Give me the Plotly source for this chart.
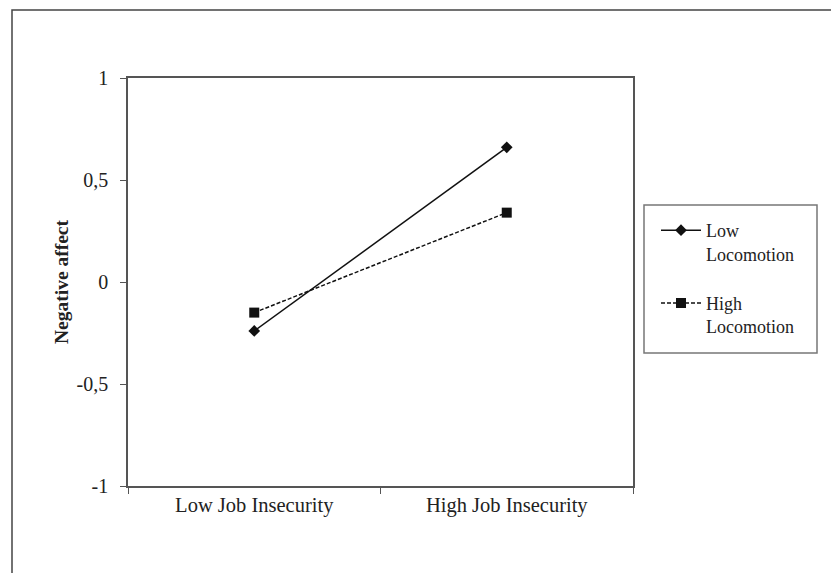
import plotly.graph_objects as go

categories = ["Low Job Insecurity", "High Job Insecurity"]
low_locomotion = [-0.24, 0.66]
high_locomotion = [-0.15, 0.34]
series_names = ["Low<br>Locomotion", "High<br>Locomotion"]
y_tickvals = [-1, -0.5, 0, 0.5, 1]
y_ticktext = ["-1", "-0,5", "0", "0,5", "1"]

OFF = 8  # page body margin in the browser
W, H = 839 - OFF, 573 - OFF
# plot area in screen pixels
L, R, T, B = 128, 633, 78, 486
pw, ph = R - L, B - T

def px(x):
    return (x - L) / pw

def py(y):
    return (B - y) / ph

FONT = "Liberation Serif, Times New Roman, serif"

fig = go.Figure()
fig.add_trace(go.Scatter(
    x=categories, y=low_locomotion, name=series_names[0], mode="lines+markers",
    line=dict(color="#111111", width=1.5),
    marker=dict(symbol="diamond", size=9, color="#111111"),
    legendgroup="a",
))
fig.add_trace(go.Scatter(
    x=categories, y=high_locomotion, name=series_names[1], mode="lines+markers",
    line=dict(color="#111111", width=1.5, dash="4px,2px"),
    marker=dict(symbol="square", size=10, color="#111111"),
    legendgroup="b",
))

fig.update_layout(
    width=W, height=H,
    margin=dict(l=L - OFF, r=(W + OFF) - R, t=T - OFF, b=(H + OFF) - B, pad=0),
    paper_bgcolor="white", plot_bgcolor="white",
    font=dict(family=FONT, size=19, color="#222222"),
    showlegend=True,
    legend=dict(
        x=px(656), y=py(212), xanchor="left", yanchor="top",
        bgcolor="rgba(0,0,0,0)", borderwidth=0,
        font=dict(family=FONT, size=18, color="#222222"),
        tracegroupgap=23, valign="top", itemwidth=40,
    ),
    xaxis=dict(
        type="category", range=[-0.5, 1.5],
        showline=True, linecolor="#555555", linewidth=1.5, mirror=True,
        ticks="outside", tickson="boundaries", ticklen=6, tickcolor="#555555",
        showgrid=False, zeroline=False,
        tickfont=dict(family=FONT, size=20.5, color="#222222"),
    ),
    yaxis=dict(
        range=[-1, 1], tickvals=y_tickvals, ticktext=y_ticktext,
        showline=True, linecolor="#555555", linewidth=1.5, mirror=True,
        ticks="outside", ticklen=6, tickcolor="#555555",
        showgrid=False, zeroline=False, ticklabelstandoff=8,
        tickfont=dict(family=FONT, size=20, color="#222222"),
        title=dict(text="<b>Negative affect</b>", standoff=3,
                   font=dict(family=FONT, size=19.5, color="#222222")),
    ),
    shapes=[
        # outer frame
        dict(type="rect", xref="paper", yref="paper",
             x0=px(12), y0=py(600), x1=px(860), y1=py(10),
             line=dict(color="#444444", width=1.5), layer="below"),
        # legend box
        dict(type="rect", xref="paper", yref="paper",
             x0=px(644), y0=py(353), x1=px(817), y1=py(205),
             line=dict(color="#777777", width=1.5)),
    ],
)

fig.write_html("out.html")
